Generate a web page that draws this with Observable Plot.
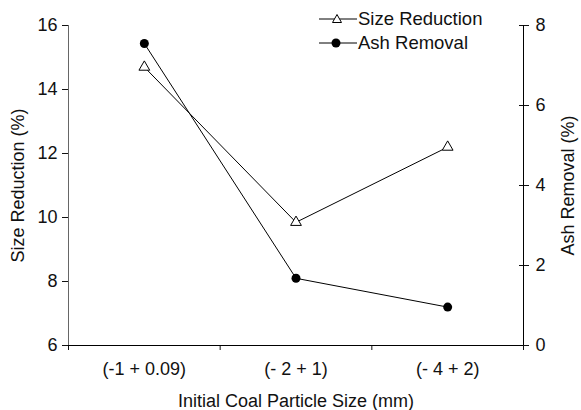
<!DOCTYPE html>
<html>
<head>
<meta charset="utf-8">
<script src="https://cdn.jsdelivr.net/npm/d3@7"></script>
<script src="https://cdn.jsdelivr.net/npm/@observablehq/plot@0.6"></script>
<style>
  html, body { margin: 0; padding: 0; background: #fff; }
  #wrap { position: relative; width: 581px; height: 410px; font-family: "Liberation Sans", Arial, sans-serif; }
  #legend { position: absolute; left: 318px; top: 7px; font-size: 18.5px; color: #111; }
  .row { display: flex; align-items: center; height: 24px; }
  .row svg { display: block; margin-right: 0px; }
</style>
</head>
<body>
<div id="wrap">
  <div id="chart"></div>
  <div id="legend">
    <div class="row"><svg width="40" height="24"><line x1="1" x2="39" y1="12" y2="12" stroke="#000"/><path d="M19,7.5 L23.5,15.5 L14.5,15.5 Z" fill="#fff" stroke="#000"/></svg><span>Size Reduction</span></div>
    <div class="row"><svg width="40" height="24"><line x1="1" x2="39" y1="12" y2="12" stroke="#000"/><circle cx="18" cy="12" r="4.5" fill="#000"/></svg><span>Ash Removal</span></div>
  </div>
</div>
<script>
const categories = ["(-1 + 0.09)", "(- 2 + 1)", "(- 4 + 2)"];
const sizeReduction = [14.7, 9.85, 12.2];
const ashRemoval = [7.55, 1.68, 0.96];
const leftTicks = [6, 8, 10, 12, 14, 16];
const rightTicks = [0, 2, 4, 6, 8];
const bandEdges = [0.5, 1.5, 2.5, 3.5];

// right axis (0..8) mapped onto left axis (6..16)
const toLeft = a => 6 + a * 10 / 8;
const fromLeft = v => Math.round((v - 6) * 8 / 10);

const table = categories.map((c, i) => ({pos: i + 1, cat: c, size: sizeReduction[i], ash: ashRemoval[i]}));

const chart = Plot.plot({
  width: 581,
  height: 410,
  marginLeft: 68,
  marginRight: 58,
  marginTop: 25,
  marginBottom: 65,
  style: {fontFamily: "'Liberation Sans', Arial, sans-serif", fontSize: "18px", color: "#111", background: "#fff"},
  x: {type: "linear", domain: [0.5, 3.5]},
  y: {type: "linear", domain: [6, 16]},
  marks: [
    Plot.axisY({ticks: leftTicks, tickSize: 6, tickPadding: 5, label: "Size Reduction (%)", labelAnchor: "center", labelOffset: 57, labelArrow: "none"}),
    Plot.axisY({anchor: "right", ticks: rightTicks.map(toLeft), tickSize: 5, tickPadding: 7, tickFormat: fromLeft, label: "Ash Removal (%)", labelAnchor: "center", labelOffset: 50, labelArrow: "none"}),
    Plot.axisY({anchor: "right", ticks: rightTicks.map(toLeft), tickSize: 5, dx: -5, tickFormat: () => "", label: null}),
    Plot.axisX({ticks: [1, 2, 3], tickSize: 0, tickPadding: 17, tickFormat: d => categories[d - 1], label: "Initial Coal Particle Size (mm)", labelAnchor: "center", labelOffset: 61, labelArrow: "none"}),
    Plot.axisX({ticks: bandEdges, tickSize: 5, tickFormat: () => "", label: null}),
    Plot.ruleX([0.5], {stroke: "#666"}),
    Plot.ruleX([3.5], {stroke: "#000"}),
    Plot.ruleY([6], {stroke: "#000"}),
    Plot.line(table, {x: "pos", y: "size", stroke: "#000", strokeWidth: 1}),
    Plot.line(table, {x: "pos", y: d => toLeft(d.ash), stroke: "#000", strokeWidth: 1}),
    Plot.dot(table, {x: "pos", y: "size", symbol: "triangle", r: 4, fill: "#fff", stroke: "#000", strokeWidth: 1}),
    Plot.dot(table, {x: "pos", y: d => toLeft(d.ash), symbol: "circle", r: 4.5, fill: "#000", stroke: "none"})
  ]
});
document.getElementById("chart").appendChild(chart);
</script>
</body>
</html>
